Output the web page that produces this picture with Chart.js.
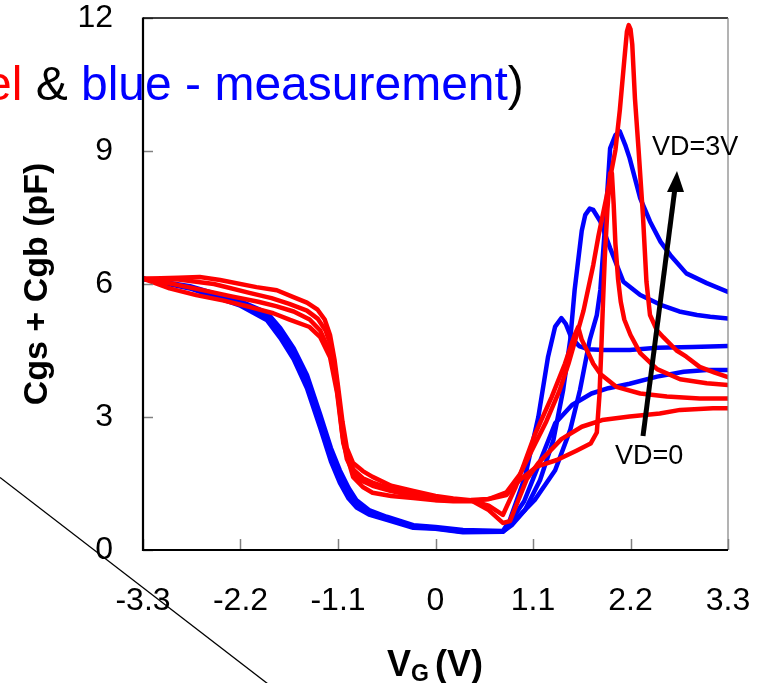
<!DOCTYPE html>
<html>
<head>
<meta charset="utf-8">
<script src="https://cdn.jsdelivr.net/npm/chart.js@4/dist/chart.umd.min.js"></script>
<style>
  html, body { margin: 0; padding: 0; background: #ffffff; }
  #wrap { width: 758px; height: 683px; position: relative; }
</style>
</head>
<body>
<div id="wrap"><canvas id="c" width="758" height="683"></canvas></div>
<script>
// ---------- tick labels ----------
const xTickValues = [-3.3, -2.2, -1.1, 0, 1.1, 2.2, 3.3];
const xTickLabels = ['-3.3', '-2.2', '-1.1', '0', '1.1', '2.2', '3.3'];
const yTickValues = [0, 3, 6, 9, 12];
const yTickLabels = ['0', '3', '6', '9', '12'];

// ---------- red curves (model) ----------
const red1VG = [-3.3, -2.9, -2.66, -2.43, -2.02, -1.79, -1.61, -1.45, -1.33, -1.25, -1.19, -1.14, -1.1, -1.05, -1.0, -0.93, -0.82, -0.71, -0.5, -0.25, 0, 0.2, 0.4, 0.6, 0.76, 0.84, 0.93, 1.03, 1.16, 1.42, 1.65, 1.88, 2.19, 2.53, 2.76, 3.13, 3.3];
const red1C  = [6.12, 6.14, 6.16, 6.09, 5.93, 5.86, 5.71, 5.58, 5.42, 5.2, 4.85, 4.3, 3.7, 2.9, 2.3, 1.96, 1.78, 1.65, 1.45, 1.33, 1.22, 1.16, 1.12, 0.9, 0.61, 0.65, 1.1, 1.6, 1.96, 2.5, 2.78, 2.93, 3.01, 3.08, 3.16, 3.2, 3.2];

const red2VG = [-3.3, -2.9, -2.5, -2.1, -1.85, -1.65, -1.45, -1.33, -1.24, -1.17, -1.12, -1.08, -1.03, -0.98, -0.92, -0.82, -0.71, -0.5, -0.25, 0, 0.2, 0.4, 0.6, 0.76, 0.9, 1.12, 1.31, 1.46, 1.57, 1.61, 1.65, 1.71, 1.78, 1.86, 2.04, 2.31, 2.61, 2.98, 3.3];
const red2C  = [6.12, 6.1, 6.0, 5.8, 5.68, 5.55, 5.4, 5.22, 4.95, 4.55, 3.9, 3.2, 2.5, 2.0, 1.8, 1.62, 1.52, 1.38, 1.27, 1.17, 1.13, 1.12, 1.0, 0.79, 1.4, 2.6, 3.45, 4.2, 4.85, 5.03, 4.74, 4.5, 4.2, 3.97, 3.68, 3.53, 3.46, 3.42, 3.42];

const red3VG = [-3.3, -2.96, -2.6, -2.3, -2.0, -1.8, -1.6, -1.42, -1.3, -1.2, -1.13, -1.09, -1.05, -1.0, -0.93, -0.82, -0.71, -0.5, -0.25, 0, 0.2, 0.4, 0.6, 0.8, 0.95, 1.14, 1.37, 1.59, 1.75, 1.82, 1.85, 1.87, 1.89, 1.91, 1.94, 1.97, 1.99, 2.01, 2.03, 2.06, 2.09, 2.13, 2.2, 2.31, 2.5, 2.76, 3.06, 3.3];
const red3C  = [6.12, 6.0, 5.85, 5.72, 5.6, 5.5, 5.38, 5.2, 4.95, 4.5, 3.9, 3.3, 2.6, 2.05, 1.75, 1.55, 1.45, 1.33, 1.22, 1.13, 1.12, 1.13, 1.15, 1.24, 1.58, 1.88, 2.03, 2.24, 2.4, 2.65, 3.5, 4.5, 5.6, 6.6, 7.7, 8.5, 8.5, 7.8, 6.9, 6.1, 5.6, 5.2, 4.85, 4.44, 4.08, 3.85, 3.76, 3.72];

const red4VG = [-3.3, -3.0, -2.7, -2.4, -2.09, -1.83, -1.64, -1.42, -1.3, -1.19, -1.11, -1.04, -0.93, -0.82, -0.71, -0.5, -0.25, 0, 0.2, 0.4, 0.6, 0.8, 0.95, 1.1, 1.25, 1.4, 1.5, 1.6, 1.67, 1.78, 1.84, 1.93, 2.03, 2.08, 2.13, 2.16, 2.18, 2.2, 2.22, 2.25, 2.29, 2.34, 2.38, 2.42, 2.5, 2.57, 2.72, 2.83, 2.98, 3.15, 3.3];
const red4C  = [6.12, 5.9, 5.75, 5.63, 5.48, 5.34, 5.19, 5.03, 4.8, 4.35, 3.54, 2.41, 1.65, 1.42, 1.29, 1.22, 1.17, 1.12, 1.1, 1.1, 1.15, 1.3, 1.7, 2.3, 2.9, 3.6, 4.2, 4.9, 5.4, 6.43, 7.1, 7.97, 9.02, 9.93, 11.05, 11.7, 11.84, 11.75, 11.4, 10.19, 9.06, 7.56, 6.05, 5.3, 4.95, 4.8, 4.5, 4.36, 4.13, 4.0, 3.9];

// ---------- blue curves (measurement) ----------
const blue1VG = [-3.3, -2.77, -2.21, -1.9, -1.75, -1.6, -1.45, -1.3, -1.18, -1.08, -0.98, -0.89, -0.75, -0.55, -0.25, 0, 0.31, 0.76, 0.84, 1.01, 1.16, 1.27, 1.35, 1.42, 1.47, 1.53, 1.62, 1.72, 1.9, 2.19, 2.5, 2.9, 3.3];
const blue1C  = [6.12, 5.93, 5.58, 5.28, 4.92, 4.45, 3.85, 2.95, 2.2, 1.7, 1.3, 1.05, 0.86, 0.72, 0.54, 0.5, 0.42, 0.42, 0.68, 1.65, 3.0, 4.36, 5.04, 5.23, 5.1, 4.8, 4.6, 4.53, 4.51, 4.51, 4.56, 4.58, 4.6];

const blue2VG = [-3.3, -2.77, -2.21, -1.9, -1.75, -1.6, -1.45, -1.3, -1.18, -1.08, -0.98, -0.89, -0.75, -0.55, -0.25, 0, 0.31, 0.76, 0.86, 1.0, 1.1, 1.2, 1.35, 1.54, 1.76, 1.95, 2.19, 2.5, 2.8, 3.06, 3.3];
const blue2C  = [6.12, 5.95, 5.62, 5.35, 5.0, 4.55, 3.95, 3.05, 2.3, 1.8, 1.4, 1.12, 0.9, 0.75, 0.56, 0.52, 0.45, 0.43, 0.68, 1.1, 1.6, 2.1, 2.86, 3.27, 3.53, 3.65, 3.75, 3.91, 4.02, 4.06, 4.06];

const blue3VG = [-3.3, -2.77, -2.21, -1.9, -1.75, -1.6, -1.45, -1.3, -1.18, -1.08, -0.98, -0.89, -0.75, -0.55, -0.25, 0, 0.31, 0.76, 0.86, 1.01, 1.18, 1.33, 1.44, 1.52, 1.57, 1.65, 1.69, 1.74, 1.78, 1.86, 1.97, 2.12, 2.31, 2.54, 2.75, 2.95, 3.1, 3.3];
const blue3C  = [6.12, 5.92, 5.55, 5.22, 4.85, 4.38, 3.75, 2.85, 2.1, 1.6, 1.22, 1.0, 0.83, 0.7, 0.52, 0.49, 0.41, 0.41, 0.56, 0.9, 1.58, 2.48, 3.61, 4.74, 5.87, 7.2, 7.56, 7.7, 7.67, 7.41, 6.81, 6.05, 5.75, 5.53, 5.38, 5.3, 5.26, 5.22];

const blue4VG = [-3.3, -2.77, -2.21, -1.9, -1.75, -1.6, -1.45, -1.3, -1.18, -1.08, -0.98, -0.89, -0.75, -0.55, -0.25, 0, 0.31, 0.76, 0.9, 1.12, 1.35, 1.52, 1.63, 1.74, 1.82, 1.86, 1.92, 1.97, 2.03, 2.08, 2.14, 2.19, 2.31, 2.42, 2.54, 2.65, 2.83, 3.06, 3.3];
const blue4C  = [6.12, 5.9, 5.52, 5.18, 4.78, 4.3, 3.65, 2.75, 2.0, 1.52, 1.16, 0.96, 0.8, 0.68, 0.5, 0.48, 0.4, 0.41, 0.68, 1.13, 1.8, 2.71, 3.61, 4.74, 5.3, 5.87, 7.5, 9.06, 9.36, 9.44, 9.14, 8.84, 7.93, 7.41, 6.95, 6.65, 6.24, 6.02, 5.82];

const RED = '#ff0000';
const BLUE = '#0000ff';
const FONT = '"Liberation Sans", Arial, Helvetica, sans-serif';

function pts(xs, ys) { return xs.map((x, i) => ({ x: x, y: ys[i] })); }
function ds(xs, ys, color) {
  return { data: pts(xs, ys), showLine: true, borderColor: color, backgroundColor: color,
           borderWidth: 4.5, pointRadius: 0, tension: 0, borderJoinStyle: 'round', borderCapStyle: 'round' };
}

const datasets = [
  ds(red1VG, red1C, RED), ds(red2VG, red2C, RED), ds(red3VG, red3C, RED), ds(red4VG, red4C, RED),
  ds(blue1VG, blue1C, BLUE), ds(blue2VG, blue2C, BLUE), ds(blue3VG, blue3C, BLUE), ds(blue4VG, blue4C, BLUE)
];

const decor = {
  id: 'decor',
  beforeDraw(chart) {
    const ctx = chart.ctx;
    ctx.save();
    ctx.fillStyle = '#fff';
    ctx.fillRect(0, 0, chart.width, chart.height);
    // partially cropped heading
    ctx.font = '48px ' + FONT;
    ctx.textBaseline = 'alphabetic';
    ctx.textAlign = 'left';
    const blueStart = 81;
    const wAmp = ctx.measureText(' & ').width;
    const wRed = ctx.measureText('(red - model').width;
    const x0 = blueStart - wAmp - wRed;
    ctx.fillStyle = RED; ctx.fillText('(red - model', x0, 100);
    ctx.fillStyle = '#000'; ctx.fillText(' & ', x0 + wRed, 100);
    ctx.fillStyle = BLUE; ctx.fillText('blue - measurement', blueStart, 100);
    const wBlue = ctx.measureText('blue - measurement').width;
    ctx.fillStyle = '#000'; ctx.fillText(')', blueStart + wBlue, 100);
    ctx.restore();
  },
  afterDatasetsDraw(chart) {
    const ctx = chart.ctx;
    const a = chart.chartArea;
    const xs = chart.scales.x, ys = chart.scales.y;
    ctx.save();
    // tick marks (inside)
    ctx.strokeStyle = '#808080';
    ctx.lineWidth = 1.5;
    xTickValues.forEach(v => {
      const px = Math.round(xs.getPixelForValue(v)) + 0.5;
      ctx.beginPath(); ctx.moveTo(px, a.bottom); ctx.lineTo(px, a.bottom - 11); ctx.stroke();
    });
    yTickValues.forEach(v => {
      const py = Math.round(ys.getPixelForValue(v)) + 0.5;
      ctx.beginPath(); ctx.moveTo(a.left, py); ctx.lineTo(a.left + 10, py); ctx.stroke();
    });
    // top and right frame
    ctx.strokeStyle = '#000'; ctx.lineWidth = 1.5;
    ctx.beginPath(); ctx.moveTo(a.left, a.top); ctx.lineTo(a.right, a.top); ctx.stroke();
    ctx.strokeStyle = '#808080'; ctx.lineWidth = 1.2;
    ctx.beginPath(); ctx.moveTo(a.right, a.top); ctx.lineTo(a.right, a.bottom); ctx.stroke();
    // axes
    ctx.strokeStyle = '#000'; ctx.lineWidth = 2.2;
    ctx.beginPath(); ctx.moveTo(a.left, a.top - 0.5); ctx.lineTo(a.left, a.bottom); ctx.lineTo(a.right, a.bottom); ctx.stroke();
    // arrow VD=0 -> VD=3V
    ctx.strokeStyle = '#000'; ctx.lineWidth = 5; ctx.lineCap = 'butt';
    ctx.beginPath(); ctx.moveTo(643, 436); ctx.lineTo(675, 188); ctx.stroke();
    ctx.fillStyle = '#000';
    ctx.beginPath(); ctx.moveTo(677, 171); ctx.lineTo(684, 192); ctx.lineTo(667, 192); ctx.closePath(); ctx.fill();
    ctx.font = '27px ' + FONT;
    ctx.textAlign = 'left'; ctx.textBaseline = 'alphabetic';
    ctx.fillText('VD=3V', 652, 155);
    ctx.fillText('VD=0', 615, 464);
    ctx.restore();
  },
  afterDraw(chart) {
    const ctx = chart.ctx;
    ctx.save();
    ctx.fillStyle = '#000';
    // y title
    ctx.translate(47, 284);
    ctx.rotate(-Math.PI / 2);
    ctx.font = 'bold 34px ' + FONT;
    ctx.textAlign = 'center'; ctx.textBaseline = 'alphabetic';
    ctx.fillText('Cgs + Cgb (pF)', 0, 0);
    ctx.setTransform(1, 0, 0, 1, 0, 0);
    // x title V_G (V)
    ctx.textAlign = 'left';
    ctx.font = 'bold 36px ' + FONT;
    ctx.fillText('V', 387, 676);
    const wV = ctx.measureText('V').width;
    ctx.font = 'bold 23px ' + FONT;
    ctx.fillText('G', 387 + wV, 681);
    const wG = ctx.measureText('G').width;
    ctx.font = 'bold 36px ' + FONT;
    ctx.fillText(' (V)', 387 + wV + wG - 4, 676);
    // diagonal line
    ctx.strokeStyle = '#000'; ctx.lineWidth = 1.3;
    ctx.beginPath(); ctx.moveTo(0, 477.5); ctx.lineTo(270, 685.5); ctx.stroke();
    ctx.restore();
  }
};

Chart.defaults.font.family = FONT;
new Chart(document.getElementById('c').getContext('2d'), {
  type: 'scatter',
  data: { datasets: datasets },
  options: {
    responsive: false,
    animation: false,
    devicePixelRatio: 1,
    layout: { padding: { top: 18, right: 30, left: 0, bottom: 0 } },
    plugins: { legend: { display: false }, tooltip: { enabled: false }, title: { display: false } },
    scales: {
      x: {
        type: 'linear', min: -3.3, max: 3.3,
        afterBuildTicks: s => { s.ticks = xTickValues.map(v => ({ value: v })); },
        afterFit: s => { s.height = 133; s.paddingLeft = 0; s.paddingRight = 0; s.paddingTop = 0; s.paddingBottom = 0; },
        ticks: { callback: (v, i) => xTickLabels[i], color: '#000', font: { size: 32, family: FONT }, padding: 32, maxRotation: 0, autoSkip: false },
        grid: { display: false, drawTicks: false },
        border: { display: false }
      },
      y: {
        type: 'linear', min: 0, max: 12,
        afterBuildTicks: s => { s.ticks = yTickValues.map(v => ({ value: v })); },
        afterFit: s => { s.width = 143; s.paddingLeft = 0; s.paddingRight = 0; s.paddingTop = 0; s.paddingBottom = 0; },
        ticks: { callback: (v, i) => yTickLabels[i], color: '#000', font: { size: 32, family: FONT }, padding: 30, autoSkip: false },
        grid: { display: false, drawTicks: false },
        border: { display: false }
      }
    }
  },
  plugins: [decor]
});
</script>
</body>
</html>
